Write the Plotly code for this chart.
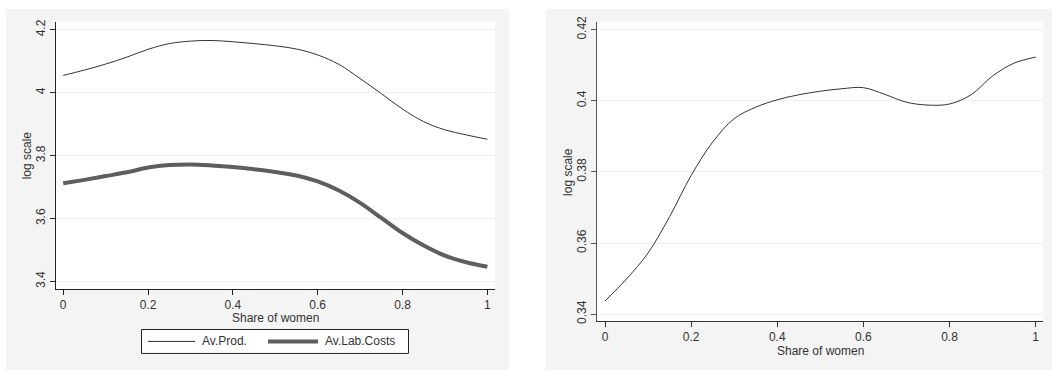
import plotly.graph_objects as go

# Left panel data
share_left = [0, 0.05, 0.1, 0.15, 0.2, 0.25, 0.3, 0.35, 0.4, 0.45, 0.5, 0.55, 0.6, 0.65, 0.7, 0.75, 0.8, 0.85, 0.9, 0.95, 1.0]
av_prod = [4.055, 4.072, 4.091, 4.113, 4.138, 4.156, 4.164, 4.166, 4.162, 4.156, 4.149, 4.139, 4.120, 4.090, 4.045, 3.997, 3.948, 3.908, 3.882, 3.866, 3.852]
av_lab_costs = [3.712, 3.723, 3.735, 3.747, 3.762, 3.770, 3.772, 3.769, 3.764, 3.757, 3.748, 3.737, 3.718, 3.689, 3.650, 3.602, 3.554, 3.514, 3.482, 3.461, 3.447]

# Right panel data
share_right = [0, 0.05, 0.1, 0.15, 0.2, 0.25, 0.3, 0.35, 0.4, 0.45, 0.5, 0.55, 0.6, 0.65, 0.7, 0.75, 0.8, 0.85, 0.9, 0.95, 1.0]
ratio_right = [0.3437, 0.3499, 0.3572, 0.3674, 0.3790, 0.3884, 0.3950, 0.3982, 0.4003, 0.4017, 0.4027, 0.4034, 0.4037, 0.4018, 0.3996, 0.3988, 0.3991, 0.4017, 0.4070, 0.4106, 0.4123]

series_names = ["Av.Prod.", "Av.Lab.Costs"]
left_yticks = [3.4, 3.6, 3.8, 4.0, 4.2]
left_ytext = ["3.4", "3.6", "3.8", "4", "4.2"]
right_yticks = [0.34, 0.36, 0.38, 0.40, 0.42]
right_ytext = ["0.34", "0.36", "0.38", "0.4", "0.42"]
xticks = [0, 0.2, 0.4, 0.6, 0.8, 1.0]
xtext = ["0", "0.2", "0.4", "0.6", "0.8", "1"]

W, H = 1052, 374
FONT = "Liberation Sans, Arial, sans-serif"
TXT = "#333333"
PANEL = "#f4f4f4"
THIN = dict(color="#333333", width=1)
THICK = dict(color="#5e5e5e", width=4)

fig = go.Figure()
fig.add_trace(go.Scatter(x=share_left, y=av_prod, mode="lines", name=series_names[0], showlegend=False,
                         line=dict(shape="spline", smoothing=1.0, **THIN), xaxis="x", yaxis="y"))
fig.add_trace(go.Scatter(x=share_left, y=av_lab_costs, mode="lines", name=series_names[1], showlegend=False,
                         line=dict(shape="spline", smoothing=1.0, **THICK), xaxis="x", yaxis="y"))
fig.add_trace(go.Scatter(x=share_right, y=ratio_right, mode="lines", showlegend=False,
                         line=dict(shape="spline", smoothing=1.0, **THIN), xaxis="x2", yaxis="y2"))


def px(x):
    return x / W


def py(y):
    return 1 - y / H


def axis_common(lc="#222222"):
    return dict(showline=True, linecolor=lc, linewidth=1, ticks="outside",
                ticklen=5, tickcolor=lc, tickfont=dict(family=FONT, size=12, color=TXT),
                zeroline=False, mirror=False)


font12 = dict(family=FONT, size=12, color=TXT)

# manual legend (box, sample lines, labels)
leg_y = py(343.7)
shapes = [
    dict(type="rect", xref="paper", yref="paper", x0=px(6), x1=px(509), y0=py(373), y1=py(3),
         fillcolor=PANEL, line=dict(width=0), layer="below"),
    dict(type="rect", xref="paper", yref="paper", x0=px(546), x1=1, y0=py(373), y1=py(3),
         fillcolor=PANEL, line=dict(width=0), layer="below"),
    dict(type="rect", xref="x domain", yref="y domain", x0=0, x1=1, y0=0, y1=1,
         fillcolor="white", line=dict(width=0), layer="below"),
    dict(type="rect", xref="x2 domain", yref="y2 domain", x0=0, x1=1, y0=0, y1=1,
         fillcolor="white", line=dict(width=0), layer="below"),
    dict(type="rect", xref="paper", yref="paper", x0=px(141.5), x1=px(408.5), y0=py(356), y1=py(331.5),
         fillcolor="white", line=dict(color="#222222", width=1)),
    dict(type="line", xref="paper", yref="paper", x0=px(148), x1=px(195), y0=leg_y, y1=leg_y, line=THIN),
    dict(type="line", xref="paper", yref="paper", x0=px(268), x1=px(318), y0=leg_y, y1=leg_y, line=THICK),
]

annotations = [
    dict(text=series_names[0], xref="paper", yref="paper", x=px(200), y=leg_y,
         xanchor="left", yanchor="middle", showarrow=False, font=font12),
    dict(text=series_names[1], xref="paper", yref="paper", x=px(323), y=leg_y,
         xanchor="left", yanchor="middle", showarrow=False, font=font12),
    dict(text="Share of women", xref="paper", yref="paper", x=px(275.5), y=py(319.5),
         xanchor="center", yanchor="middle", showarrow=False, font=font12),
    dict(text="Share of women", xref="paper", yref="paper", x=px(820), y=py(353),
         xanchor="center", yanchor="middle", showarrow=False, font=font12),
    dict(text="log scale", xref="paper", yref="paper", x=px(27), y=py(153),
         xanchor="center", yanchor="middle", textangle=-90, showarrow=False, font=font12),
    dict(text="log scale", xref="paper", yref="paper", x=px(568), y=py(170),
         xanchor="center", yanchor="middle", textangle=-90, showarrow=False, font=font12),
]

fig.update_layout(
    width=W, height=H,
    margin=dict(l=0, r=0, t=0, b=0),
    paper_bgcolor="white",
    plot_bgcolor="white",
    font=font12,
    showlegend=False,
    xaxis=dict(domain=[px(56), px(495)], range=[-0.017, 1.018], tickvals=xticks, ticktext=xtext,
               showgrid=False, anchor="y", **axis_common()),
    yaxis=dict(domain=[py(290), py(16)], range=[3.376, 4.226], tickvals=left_yticks, ticktext=left_ytext,
               tickangle=-90, showgrid=True, gridcolor="#f0f0f0", gridwidth=1, anchor="x", **axis_common()),
    xaxis2=dict(domain=[px(596.7), px(1043.3)], range=[-0.0193, 1.0177], tickvals=xticks, ticktext=xtext,
                showgrid=False, anchor="y2", **axis_common("#333333")),
    yaxis2=dict(domain=[py(322.7), py(16)], range=[0.33808, 0.42228], tickvals=right_yticks, ticktext=right_ytext,
                tickangle=-90, showgrid=True, gridcolor="#f0f0f0", gridwidth=1, anchor="x2",
                **axis_common("#555555")),
    shapes=shapes,
    annotations=annotations,
)

fig.write_html("out.html", config={"displayModeBar": False},
               post_script="document.body.style.margin='0';")
